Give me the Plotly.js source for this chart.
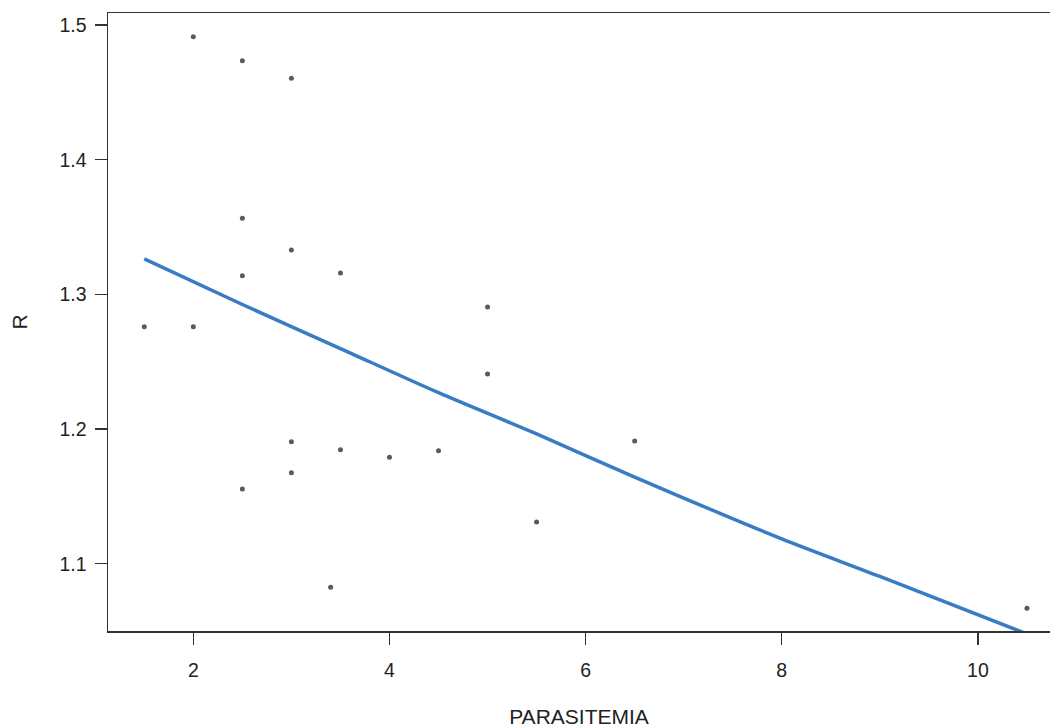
<!DOCTYPE html>
<html>
<head>
<meta charset="utf-8">
<script src="https://cdn.plot.ly/plotly-3.0.1.min.js"></script>
<style>html,body{margin:0;padding:0;background:#fff;}#chart{width:1050px;height:728px;}</style>
</head>
<body>
<div id="chart"></div>
<script>
// Observed points
var parasitemia = [1.5, 2, 2, 2.5, 2.5, 2.5, 2.5, 3, 3, 3, 3, 3.4, 3.5, 3.5, 4, 4.5, 5, 5, 5.5, 6.5, 10.5];
var rValues     = [1.276, 1.276, 1.4913, 1.4735, 1.3565, 1.3139, 1.1555, 1.4604, 1.333, 1.1906, 1.1676, 1.0826, 1.3159, 1.1847, 1.1791, 1.184, 1.2906, 1.2409, 1.131, 1.1912, 1.067];
// Fitted curve
var fitX = [1.5, 2.5, 3.5, 4.5, 5.5, 6.5, 8, 9, 10.5];
var fitY = [1.3263, 1.2925, 1.2598, 1.2270, 1.1964, 1.1644, 1.1185, 1.0906, 1.0479];
var xTicks = [2, 4, 6, 8, 10];
var yTicks = [1.1, 1.2, 1.3, 1.4, 1.5];

var fontFam = '"Liberation Sans", Arial, Helvetica, sans-serif';
var traces = [
  {x: parasitemia, y: rValues, type: 'scatter', mode: 'markers',
   marker: {color: '#5a5a5a', size: 5}, hoverinfo: 'x+y', showlegend: false},
  {x: fitX, y: fitY, type: 'scatter', mode: 'lines',
   line: {color: '#3a7cc4', width: 3.5, shape: 'spline', smoothing: 0.8}, showlegend: false}
];
var axisCommon = {
  showgrid: false, zeroline: false, showline: true, linecolor: '#333', linewidth: 1.5,
  ticks: 'outside', ticklen: 12, tickwidth: 1.3, tickcolor: '#333',
  tickfont: {family: fontFam, size: 19.5, color: '#222'}
};
var layout = {
  width: 1050, height: 728,
  margin: {l: 108, r: 0, t: 13, b: 97},
  paper_bgcolor: '#fff', plot_bgcolor: '#fff',
  font: {family: fontFam, color: '#222'},
  xaxis: Object.assign({}, axisCommon, {
    range: [1.13, 10.735], tickvals: xTicks, ticktext: xTicks.map(String),
    mirror: true, automargin: false, ticklabelstandoff: 9,
    title: {text: 'PARASITEMIA', font: {family: fontFam, size: 21, color: '#222'}, standoff: 33}
  }),
  yaxis: Object.assign({}, axisCommon, {
    range: [1.0501, 1.5089], tickvals: yTicks, ticktext: yTicks.map(function(v){return v.toFixed(1);}),
    automargin: false, ticklabelstandoff: 4,
    title: {text: 'R', font: {family: fontFam, size: 21, color: '#222'}, standoff: 26}
  })
};
Plotly.newPlot('chart', traces, layout, {displayModeBar: false, staticPlot: true});
</script>
</body>
</html>
